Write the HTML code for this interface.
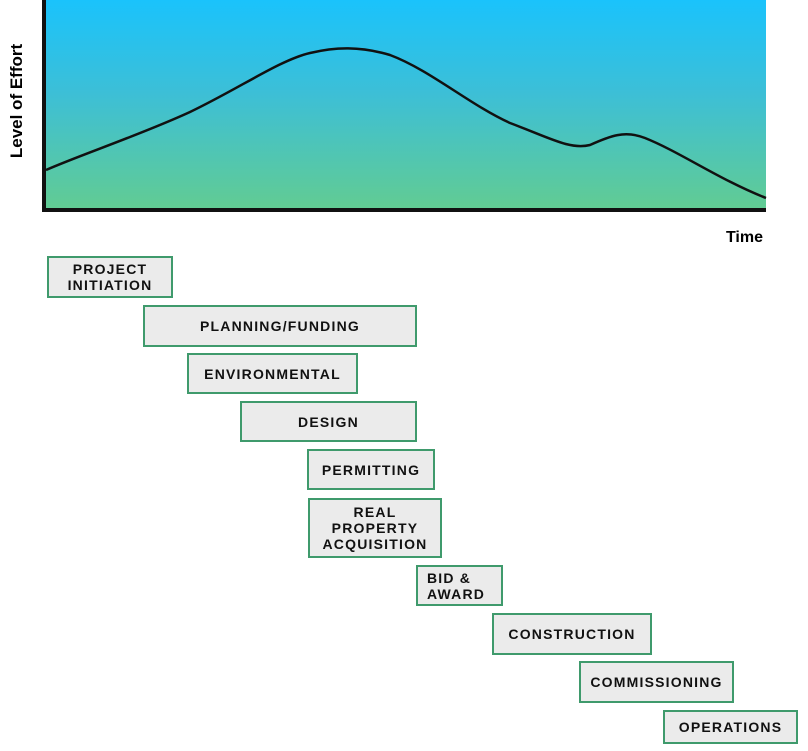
<!DOCTYPE html>
<html><head><meta charset="utf-8"><style>
body{margin:0;width:808px;height:751px;background:#fff;position:relative;overflow:hidden;font-family:"Liberation Sans",Arial,sans-serif}
.b{position:absolute;box-sizing:border-box;border:2.5px solid #3f9a6c;background:#ebebeb;display:flex;align-items:center;justify-content:center;text-align:center;font-weight:bold;font-size:14px;letter-spacing:1.2px;line-height:16px;color:#111}
</style></head><body>
<svg width="808" height="251" style="position:absolute;left:0;top:0">
<defs><linearGradient id="g" x1="0" y1="0" x2="0" y2="1"><stop offset="0" stop-color="#1ac3fc"/><stop offset="0.45" stop-color="#3dbfd6"/><stop offset="1" stop-color="#62cc92"/></linearGradient></defs>
<rect x="44" y="0" width="722" height="210" fill="url(#g)"/>
<path d="M46,170 C80,155 140,135 190,112 C240,88 280,60 310,53 C335,47 360,46 390,55 C430,70 470,105 510,123 C550,138 570,150 590,145 C610,136 625,130 645,138 C680,152 720,180 766,198" fill="none" stroke="#111" stroke-width="2.5"/>
<path d="M44,0 V210 H766" fill="none" stroke="#111" stroke-width="4"/>
<text x="0" y="0" transform="translate(22,101) rotate(-90)" text-anchor="middle" font-weight="bold" font-size="17" font-family="Liberation Sans,Arial,sans-serif">Level of Effort</text>
<text x="763" y="242" text-anchor="end" font-weight="bold" font-size="16" font-family="Liberation Sans,Arial,sans-serif">Time</text>
</svg>
<div class="b" style="left:47px;top:256px;width:126px;height:42px">PROJECT<br>INITIATION</div>
<div class="b" style="left:143px;top:305px;width:274px;height:42px">PLANNING/FUNDING</div>
<div class="b" style="left:187px;top:353px;width:171px;height:41px">ENVIRONMENTAL</div>
<div class="b" style="left:240px;top:401px;width:177px;height:41px">DESIGN</div>
<div class="b" style="left:307px;top:449px;width:128px;height:41px">PERMITTING</div>
<div class="b" style="left:308px;top:498px;width:134px;height:60px">REAL<br>PROPERTY<br>ACQUISITION</div>
<div class="b" style="left:416px;top:565px;width:87px;height:41px;justify-content:flex-start;text-align:left;padding-left:9px">BID &amp;<br>AWARD</div>
<div class="b" style="left:492px;top:613px;width:160px;height:42px">CONSTRUCTION</div>
<div class="b" style="left:579px;top:661px;width:155px;height:42px">COMMISSIONING</div>
<div class="b" style="left:663px;top:710px;width:135px;height:34px">OPERATIONS</div>
</body></html>
